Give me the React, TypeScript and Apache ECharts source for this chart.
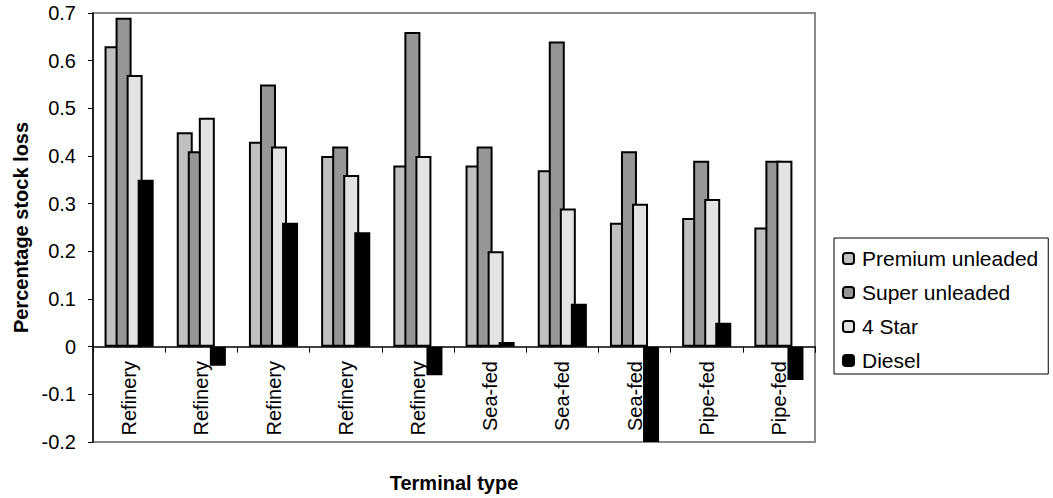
import React, { useEffect, useRef } from "react";
import * as echarts from "echarts";

const categories = ["Refinery", "Refinery", "Refinery", "Refinery", "Refinery", "Sea-fed", "Sea-fed", "Sea-fed", "Pipe-fed", "Pipe-fed"];
const premiumUnleaded = [0.63, 0.45, 0.43, 0.40, 0.38, 0.38, 0.37, 0.26, 0.27, 0.25];
const superUnleaded = [0.69, 0.41, 0.55, 0.42, 0.66, 0.42, 0.64, 0.41, 0.39, 0.39];
const fourStar = [0.57, 0.48, 0.42, 0.36, 0.40, 0.20, 0.29, 0.30, 0.31, 0.39];
const diesel = [0.35, -0.04, 0.26, 0.24, -0.06, 0.01, 0.09, -0.2, 0.05, -0.07];
const seriesNames = ["Premium unleaded", "Super unleaded", "4 Star", "Diesel"];
const seriesColors = ["#c0c0c0", "#969696", "#e3e3e3", "#000000"];

const FONT = "Liberation Sans, Arial, Helvetica, sans-serif";

export default function App() {
  const ref = useRef<HTMLDivElement>(null);
  useEffect(() => {
    if (!ref.current) return;
    const chart = echarts.init(ref.current, undefined, { renderer: "svg" });
    const values = [premiumUnleaded, superUnleaded, fourStar, diesel];
    chart.setOption({
      animation: false,
      backgroundColor: "#ffffff",
      textStyle: { fontFamily: FONT, color: "#000" },
      grid: {
        left: 93,
        right: 238,
        top: 13,
        bottom: 56,
        outerBoundsMode: "none",
        containLabel: false,
        show: true,
        borderColor: "#8a8a8a",
        borderWidth: 2,
        backgroundColor: "transparent",
      },
      legend: {
        orient: "vertical",
        left: 834,
        top: 238,
        padding: [10, 10, 3, 8],
        itemGap: 13,
        itemWidth: 11,
        itemHeight: 11,
        icon: "roundRect",
        backgroundColor: "#fff",
        borderColor: "#000",
        borderWidth: 1,
        borderRadius: 0,
        textStyle: { fontFamily: FONT, fontSize: 21, color: "#000", padding: [0, 0, 0, 3] },
        data: seriesNames,
      },
      xAxis: {
        type: "category",
        data: categories,
        name: "Terminal type",
        nameLocation: "middle",
        nameGap: 31,
        nameTextStyle: { fontFamily: FONT, fontSize: 20, fontWeight: "bold", color: "#000" },
        axisLine: { onZero: true, lineStyle: { color: "#000", width: 1.5 } },
        axisTick: { show: true, length: 6, lineStyle: { color: "#000", width: 1 } },
        axisLabel: { rotate: 90, margin: -81, fontFamily: FONT, fontSize: 20, color: "#000" },
        splitLine: { show: false },
      },
      yAxis: {
        type: "value",
        min: -0.2,
        max: 0.7,
        interval: 0.1,
        name: "Percentage stock loss",
        nameLocation: "middle",
        nameGap: 62,
        nameRotate: 90,
        nameTextStyle: { fontFamily: FONT, fontSize: 20, fontWeight: "bold", color: "#000" },
        axisLine: { show: true, lineStyle: { color: "#000", width: 1.5 } },
        axisTick: { show: true, length: 5, lineStyle: { color: "#000", width: 1 } },
        axisLabel: {
          margin: 17,
          fontFamily: FONT,
          fontSize: 20,
          color: "#000",
          formatter: (v: number) => String(Math.round(v * 10) / 10),
        },
        splitLine: { show: false },
      },
      series: values.map((d, i) => ({
        name: seriesNames[i],
        type: "bar",
        data: d,
        barWidth: 16,
        barGap: "-31%",
        itemStyle: { color: seriesColors[i], borderColor: "#000", borderWidth: 2 },
      })),
    });
    return () => chart.dispose();
  }, []);
  return (
    <div
      ref={ref}
      style={{ position: "fixed", left: 0, top: 0, width: 1053, height: 498, background: "#fff" }}
    />
  );
}
